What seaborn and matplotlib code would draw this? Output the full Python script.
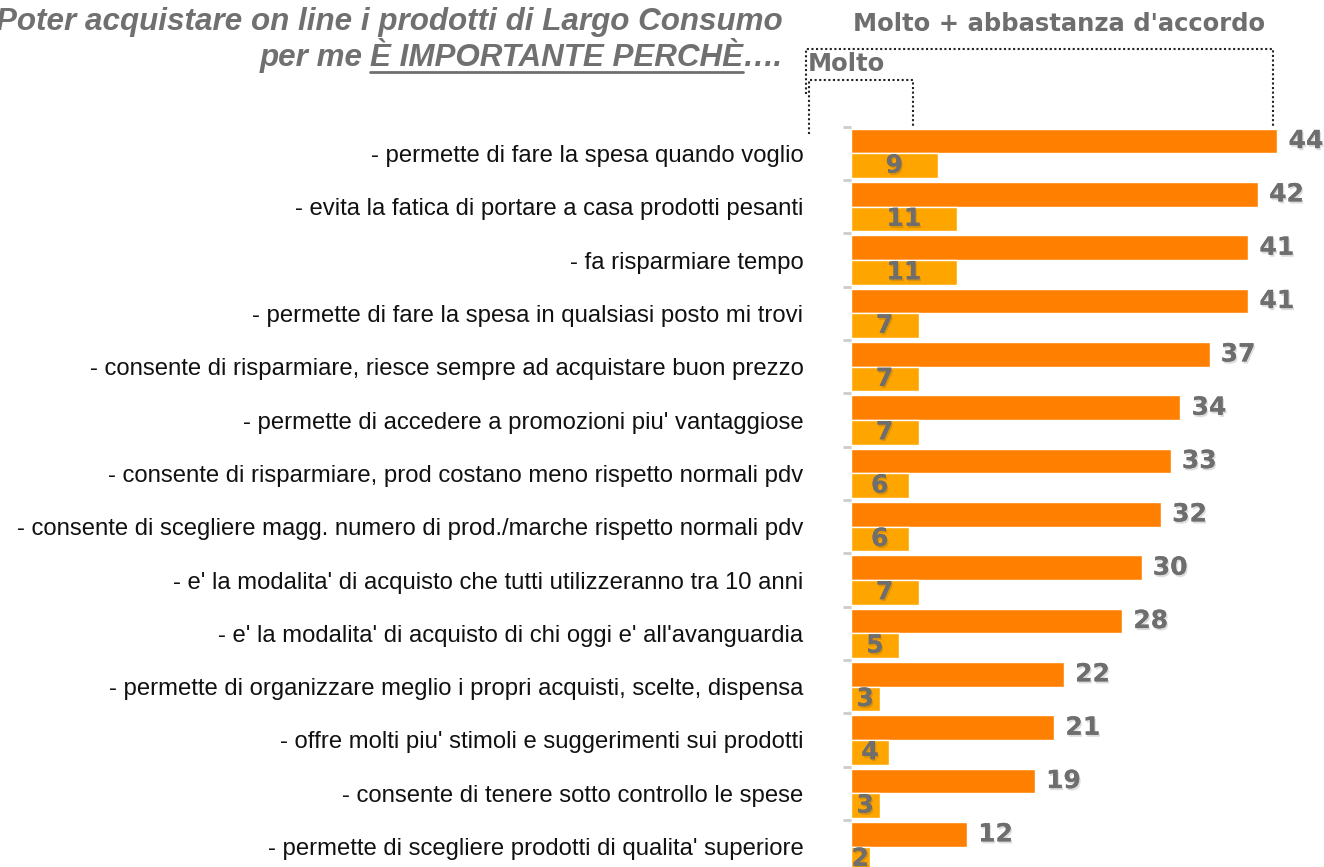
import matplotlib
matplotlib.use('Agg')
import matplotlib.pyplot as plt
import matplotlib.patheffects as pe
from matplotlib.lines import Line2D
import pandas as pd
import seaborn as sns

# ========================================
# Dati
# ========================================
motivi = [
    "- permette di fare la spesa quando voglio",
    "- evita la fatica di portare a casa prodotti pesanti",
    "- fa risparmiare tempo",
    "- permette di fare la spesa in qualsiasi posto mi trovi",
    "- consente di risparmiare, riesce sempre ad acquistare buon prezzo",
    "- permette di accedere a promozioni piu' vantaggiose",
    "- consente di risparmiare, prod costano meno rispetto normali pdv",
    "- consente di scegliere magg. numero di prod./marche rispetto normali pdv",
    "- e' la modalita' di acquisto che tutti utilizzeranno tra 10 anni",
    "- e' la modalita' di acquisto di chi oggi e' all'avanguardia",
    "- permette di organizzare meglio i propri acquisti, scelte, dispensa",
    "- offre molti piu' stimoli e suggerimenti sui prodotti",
    "- consente di tenere sotto controllo le spese",
    "- permette di scegliere prodotti di qualita' superiore",
]
molto_abbastanza = [44, 42, 41, 41, 37, 34, 33, 32, 30, 28, 22, 21, 19, 12]
molto = [9, 11, 11, 7, 7, 7, 6, 6, 7, 5, 3, 4, 3, 2]
serie = ["Molto + abbastanza d'accordo", "Molto"]
colori = ["#ff7f00", "#ffa500"]

W, H = 1324, 867
GRIGIO = "#6e6e6e"

df = pd.DataFrame({
    'motivo': motivi * 2,
    'valore': molto_abbastanza + molto,
    'serie': [serie[0]] * len(motivi) + [serie[1]] * len(motivi),
})

sns.set_theme(style='white')
plt.rcParams['font.family'] = ['Liberation Sans', 'DejaVu Sans']

fig = plt.figure(figsize=(W / 100, H / 100), dpi=100)


def fx(px):
    return px / W


def fy(py):
    return 1 - py / H


# area del grafico (in pixel: x da 850.6, bande da 126.7 px, 53.33 px ciascuna)
top = 126.7
band = 53.33
ax = fig.add_axes([fx(850.6), fy(top + band * len(motivi)), fx(W - 850.6), band * len(motivi) / H])

sns.barplot(data=df, y='motivo', x='valore', hue='serie', hue_order=serie,
            palette=colori, orient='h', width=0.92, ax=ax, legend=False,
            saturation=1)

ax.set_xlim(0, 48.8)
ax.set_ylim(len(motivi) - 0.5, -0.5)
ax.set_xlabel('')
ax.set_ylabel('')
ax.set_xticks([])
for s in ax.spines.values():
    s.set_visible(False)

# etichette categorie
ax.tick_params(axis='y', which='major', length=0, pad=34, labelsize=17.2, labelcolor='#111111')
ax.set_yticks(range(len(motivi)), motivi)
ax.set_yticks([i - 0.5 for i in range(len(motivi) + 1)], minor=True)
ax.tick_params(axis='y', which='minor', length=6, width=2, color='#cccccc', left=True)

# etichette valori
ombra = [pe.withSimplePatchShadow(offset=(1, -1.5), alpha=0.15), pe.Normal()]
font_val = dict(family='DejaVu Sans', fontweight='bold', fontsize=18, color=GRIGIO)
ax.bar_label(ax.containers[0], padding=8, path_effects=ombra, **font_val)
ax.bar_label(ax.containers[1], label_type='center', path_effects=ombra, **font_val)

# intestazioni a destra
font_int = dict(font_val, fontsize=17.5)
fig.text(fx(1059), fy(24), serie[0], ha='center', va='center', **font_int)
fig.text(fx(808), fy(64), "Molto", ha='left', va='center', **font_int)

# parentesi tratteggiate
for xs, ys in [([806, 806, 1273, 1273], [94, 49, 49, 126]),
               ([809, 809, 913, 913], [134, 80, 80, 128])]:
    fig.add_artist(Line2D([fx(v) for v in xs], [fy(v) for v in ys],
                          color='#222222', lw=1.5, ls=(0, (1, 1.2))))

# titolo
font_tit = dict(family='Liberation Sans', fontweight='bold', style='italic',
                fontsize=22.6, color='#707070')
fig.text(fx(783), fy(22), "Poter acquistare on line i prodotti di Largo Consumo",
         ha='right', va='center', **font_tit)

fig.canvas.draw()
r = fig.canvas.get_renderer()
t3 = fig.text(fx(783), fy(58), "….", ha='right', va='center', **font_tit)
w3 = t3.get_window_extent(r).width
t2 = fig.text(fx(783 - w3), fy(58), "È IMPORTANTE PERCHÈ", ha='right', va='center', **font_tit)
w2 = t2.get_window_extent(r).width
x2_left = 783 - w3 - w2
fig.text(fx(x2_left - 7), fy(58), "per me", ha='right', va='center', **font_tit)
fig.add_artist(Line2D([fx(x2_left), fx(783 - w3)], [fy(72), fy(72)], color='#707070', lw=2))

fig.savefig('out.png', dpi=100)
